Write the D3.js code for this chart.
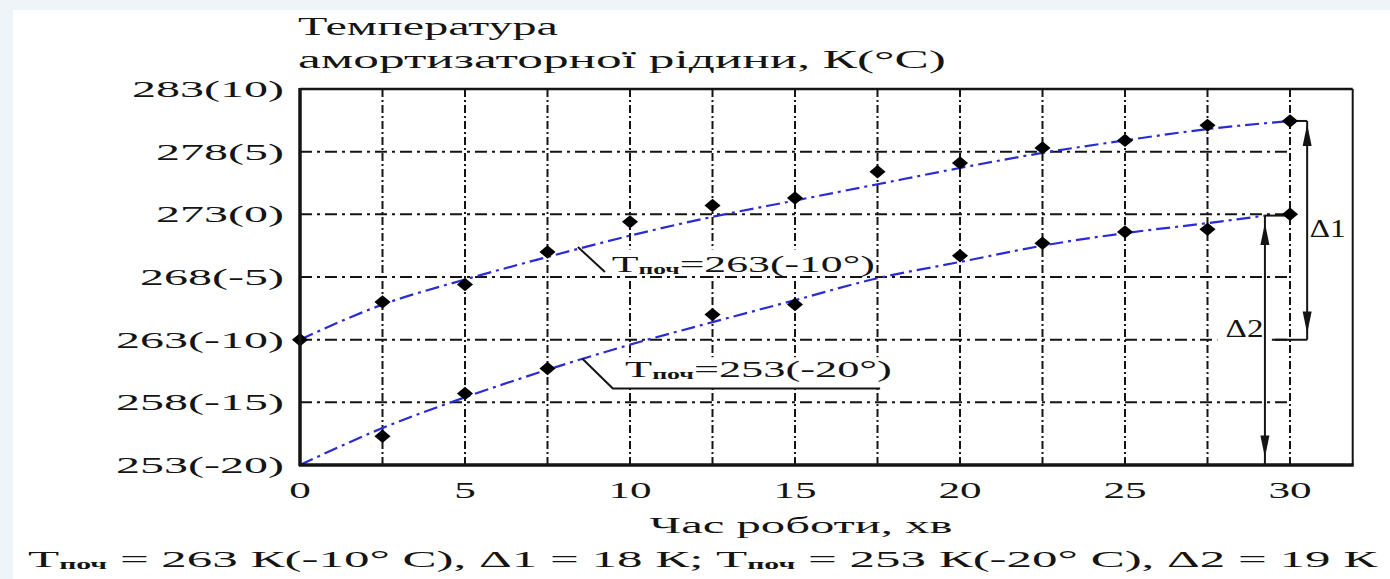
<!DOCTYPE html>
<html>
<head>
<meta charset="utf-8">
<script src="https://cdn.jsdelivr.net/npm/d3@7"></script>
<style>
  body { margin: 0; background: #fff; }
  svg { display: block; }
</style>
</head>
<body>
<script>
var width = 1390,
    height = 579;

// measured points, time in minutes, temperature in K
var upperTimes = [0, 2.5, 5, 7.5, 10, 12.5, 15, 17.5, 20, 22.5, 25, 27.5, 30];
var upperValues = [263, 266.0, 267.4, 270.0, 272.4, 273.7, 274.3, 276.4, 277.1, 278.3, 278.9, 280.1, 280.45];

var lowerTimes = [2.5, 5, 7.5, 12.5, 15, 20, 22.5, 25, 27.5, 30];
var lowerValues = [255.3, 258.7, 260.7, 265.0, 265.8, 269.7, 270.7, 271.6, 271.8, 273.0];

// fitted curves
var upperFitTimes = [0, 2.5, 5, 7.5, 10, 12.5, 15, 17.5, 20, 22.5, 25, 27.5, 30];
var upperFitValues = [263, 265.8, 267.8, 269.6, 271.3, 272.8, 274.1, 275.4, 276.7, 277.9, 278.9, 279.8, 280.45];

var lowerFitTimes = [0, 2.5, 5, 7.5, 10, 12.5, 15, 17.5, 20, 22.5, 25, 27.5, 29.25];
var lowerFitValues = [253, 255.95, 258.4, 260.6, 262.6, 264.4, 266.15, 267.9, 269.2, 270.5, 271.5, 272.3, 272.9];

var yTicks = [283, 278, 273, 268, 263, 258, 253];
var yTickLabels = ["283(10)", "278(5)", "273(0)", "268(-5)", "263(-10)", "258(-15)", "253(-20)"];
var xTicks = [0, 5, 10, 15, 20, 25, 30];
var xGrid = [2.5, 5, 7.5, 10, 12.5, 15, 17.5, 20, 22.5, 25, 27.5, 30];

var titleLines = ["Температура", "амортизаторної рідини, К(°С)"];
var xTitle = "Час роботи, хв";

var SX = 1.8;
var FONT = "'Liberation Serif', 'Times New Roman', serif";
var INK = "#141414";
var BLUE = "#2b2bd6";

var x = d3.scaleLinear().domain([0, 30]).range([300, 1290]);
var y = d3.scaleLinear().domain([253, 283]).range([465, 89]);
var xRight = 31.9;

var svg = d3.select("body").append("svg")
    .attr("width", width)
    .attr("height", height);

// pale page edges
svg.append("rect").attr("width", width).attr("height", height).attr("fill", "#fff");
svg.append("rect").attr("width", width).attr("height", 10).attr("fill", "#eef4f7");
svg.append("rect").attr("width", 13).attr("height", height).attr("fill", "#eef4f7");

function addText(parent, parts, opt) {
    var t = parent.append("text")
        .attr("font-family", FONT)
        .attr("font-size", opt.size || 24)
        .attr("fill", INK)
        .attr("text-anchor", opt.anchor || "start");
    parts.forEach(function (p) {
        var s = t.append("tspan").text(p.t);
        if (p.sub) {
            s.attr("font-size", opt.subSize || 14)
             .attr("font-weight", "bold")
             .attr("dy", 2);
        } else if (p.after) {
            s.attr("dy", -2);
        }
    });
    var w = t.node().getComputedTextLength();
    var sx = opt.width ? opt.width / w : (opt.sx || SX);
    t.attr("transform", "translate(" + opt.x + "," + opt.y + ") scale(" + sx + ",1)");
    return t;
}

// grid
var grid = svg.append("g");

grid.selectAll("line.h")
    .data(yTicks.filter(function (d) { return d !== 283 && d !== 253; }))
    .enter().append("line")
    .attr("class", "h")
    .attr("x1", x(0)).attr("x2", x(30))
    .attr("y1", function (d) { return y(d); })
    .attr("y2", function (d) { return y(d); })
    .style("stroke", INK)
    .style("stroke-width", 2)
    .style("stroke-dasharray", "12,5,3,5");

grid.selectAll("line.v")
    .data(xGrid)
    .enter().append("line")
    .attr("class", "v")
    .attr("x1", function (d) { return x(d); })
    .attr("x2", function (d) { return x(d); })
    .attr("y1", y(283)).attr("y2", y(253))
    .style("stroke", INK)
    .style("stroke-width", 2)
    .style("stroke-dasharray", "8,3,2,3");

// label boxes hiding the grid
var boxes = svg.append("g");
boxes.append("rect").attr("x", x(9.2)).attr("y", y(270.2)).attr("width", x(17.4) - x(9.2)).attr("height", y(268.3) - y(270.2)).attr("fill", "#fff");
boxes.append("rect").attr("x", x(9.6)).attr("y", y(261.6)).attr("width", x(17.6) - x(9.6)).attr("height", y(259.3) - y(261.6)).attr("fill", "#fff");
boxes.append("rect").attr("x", x(27.8)).attr("y", y(265)).attr("width", x(29.45) - x(27.8)).attr("height", y(261.5) - y(265)).attr("fill", "#fff");

// fitted curves
var line = d3.line()
    .x(function (d) { return x(d[0]); })
    .y(function (d) { return y(d[1]); })
    .curve(d3.curveMonotoneX);

svg.append("path")
    .datum(d3.zip(upperFitTimes, upperFitValues))
    .attr("d", line)
    .style("fill", "none")
    .style("stroke", BLUE)
    .style("stroke-width", 2.2)
    .style("stroke-dasharray", "14,5,3,5");

svg.append("path")
    .datum(d3.zip(lowerFitTimes, lowerFitValues))
    .attr("d", line)
    .style("fill", "none")
    .style("stroke", BLUE)
    .style("stroke-width", 2.2)
    .style("stroke-dasharray", "14,5,3,5");

// delta brackets
var ann = svg.append("g").style("stroke", INK).style("stroke-width", 2).style("fill", "none");
var d1x = 30.52, d2x = 29.24;
ann.append("line").attr("x1", x(30)).attr("x2", x(d1x)).attr("y1", y(280.45)).attr("y2", y(280.45));
ann.append("line").attr("x1", x(29.45)).attr("x2", x(d1x)).attr("y1", y(263)).attr("y2", y(263));
ann.append("line").attr("x1", x(d1x)).attr("x2", x(d1x)).attr("y1", y(280.45)).attr("y2", y(263));
ann.append("line").attr("x1", x(d2x)).attr("x2", x(30)).attr("y1", y(272.9)).attr("y2", y(272.9));
ann.append("line").attr("x1", x(d2x)).attr("x2", x(d2x)).attr("y1", y(272.9)).attr("y2", y(253));

function arrow(xv, yv, dir) {
    var px = x(xv), py = y(yv);
    svg.append("path")
        .attr("d", "M" + px + "," + py + "L" + (px - 4.5) + "," + (py + dir * 22) + "L" + (px + 4.5) + "," + (py + dir * 22) + "Z")
        .attr("fill", INK);
}
arrow(d1x, 280.2, 1);
arrow(d1x, 263.5, -1);
arrow(d2x, 272.3, 1);
arrow(d2x, 253.6, -1);

// leader lines for labels
ann.append("polyline")
    .attr("points", [[x(8.42), y(270.4)], [x(9.24), y(268.4)]].join(" "));
ann.append("polyline")
    .attr("points", [[x(8.55), y(261.5)], [x(9.48), y(259.1)], [x(17.58), y(259.1)]].join(" "));

// markers
var diamond = d3.symbol().type(d3.symbolDiamond2).size(115);

svg.selectAll("path.up")
    .data(d3.zip(upperTimes, upperValues))
    .enter().append("path")
    .attr("class", "up")
    .attr("d", diamond)
    .attr("transform", function (d) { return "translate(" + x(d[0]) + "," + y(d[1]) + ") scale(1.2,1)"; })
    .attr("fill", "#000");

svg.selectAll("path.low")
    .data(d3.zip(lowerTimes, lowerValues))
    .enter().append("path")
    .attr("class", "low")
    .attr("d", diamond)
    .attr("transform", function (d) { return "translate(" + x(d[0]) + "," + y(d[1]) + ") scale(1.2,1)"; })
    .attr("fill", "#000");

// frame
var frame = svg.append("g").style("stroke", INK).style("fill", "none");
frame.append("line").attr("x1", x(0)).attr("x2", x(xRight)).attr("y1", y(283)).attr("y2", y(283)).style("stroke-width", 2.5);
frame.append("line").attr("x1", x(xRight)).attr("x2", x(xRight)).attr("y1", y(283)).attr("y2", y(253)).style("stroke-width", 2);
frame.append("line").attr("x1", x(0) - 1).attr("x2", x(xRight) + 1).attr("y1", y(253)).attr("y2", y(253)).style("stroke-width", 3.5);
frame.append("line").attr("x1", x(0)).attr("x2", x(0)).attr("y1", y(283) - 1).attr("y2", y(253) + 1).style("stroke-width", 3.5);

// texts
var txt = svg.append("g");

yTicks.forEach(function (d, i) {
    addText(txt, [{ t: yTickLabels[i] }], { x: 284, y: y(d) + 8, anchor: "end", size: 24, sx: 2.0 });
});

xTicks.forEach(function (d) {
    addText(txt, [{ t: String(d) }], { x: x(d), y: 498, anchor: "middle", size: 24 });
});

addText(txt, [{ t: xTitle }], { x: 801, y: 533, anchor: "middle", size: 24, width: 303 });
addText(txt, [{ t: titleLines[0] }], { x: 298, y: 35, size: 25, width: 260 });
addText(txt, [{ t: titleLines[1] }], { x: 298, y: 68, size: 25, width: 648 });

addText(txt, [{ t: "Т" }, { t: "поч", sub: true }, { t: "=263(-10°)", after: true }],
    { x: x(9.45), y: y(268.3) - 1, size: 24, subSize: 14, width: 263 });
addText(txt, [{ t: "Т" }, { t: "поч", sub: true }, { t: "=253(-20°)", after: true }],
    { x: x(9.85), y: y(260.0), size: 24, subSize: 14, width: 267 });

addText(txt, [{ t: "Δ1" }], { x: x(30.6), y: y(271.9) + 9, size: 26, width: 36 });
addText(txt, [{ t: "Δ2" }], { x: x(29.2), y: y(263.9) + 9, anchor: "end", size: 26, width: 38 });

addText(txt, [
    { t: "Т" }, { t: "поч", sub: true }, { t: " = 263 К(-10° С), Δ1 = 18 К; Т", after: true },
    { t: "поч", sub: true }, { t: " = 253 К(-20° С), Δ2 = 19 К", after: true }
], { x: 28, y: 567, size: 24, subSize: 14, width: 1350 });
</script>
</body>
</html>
